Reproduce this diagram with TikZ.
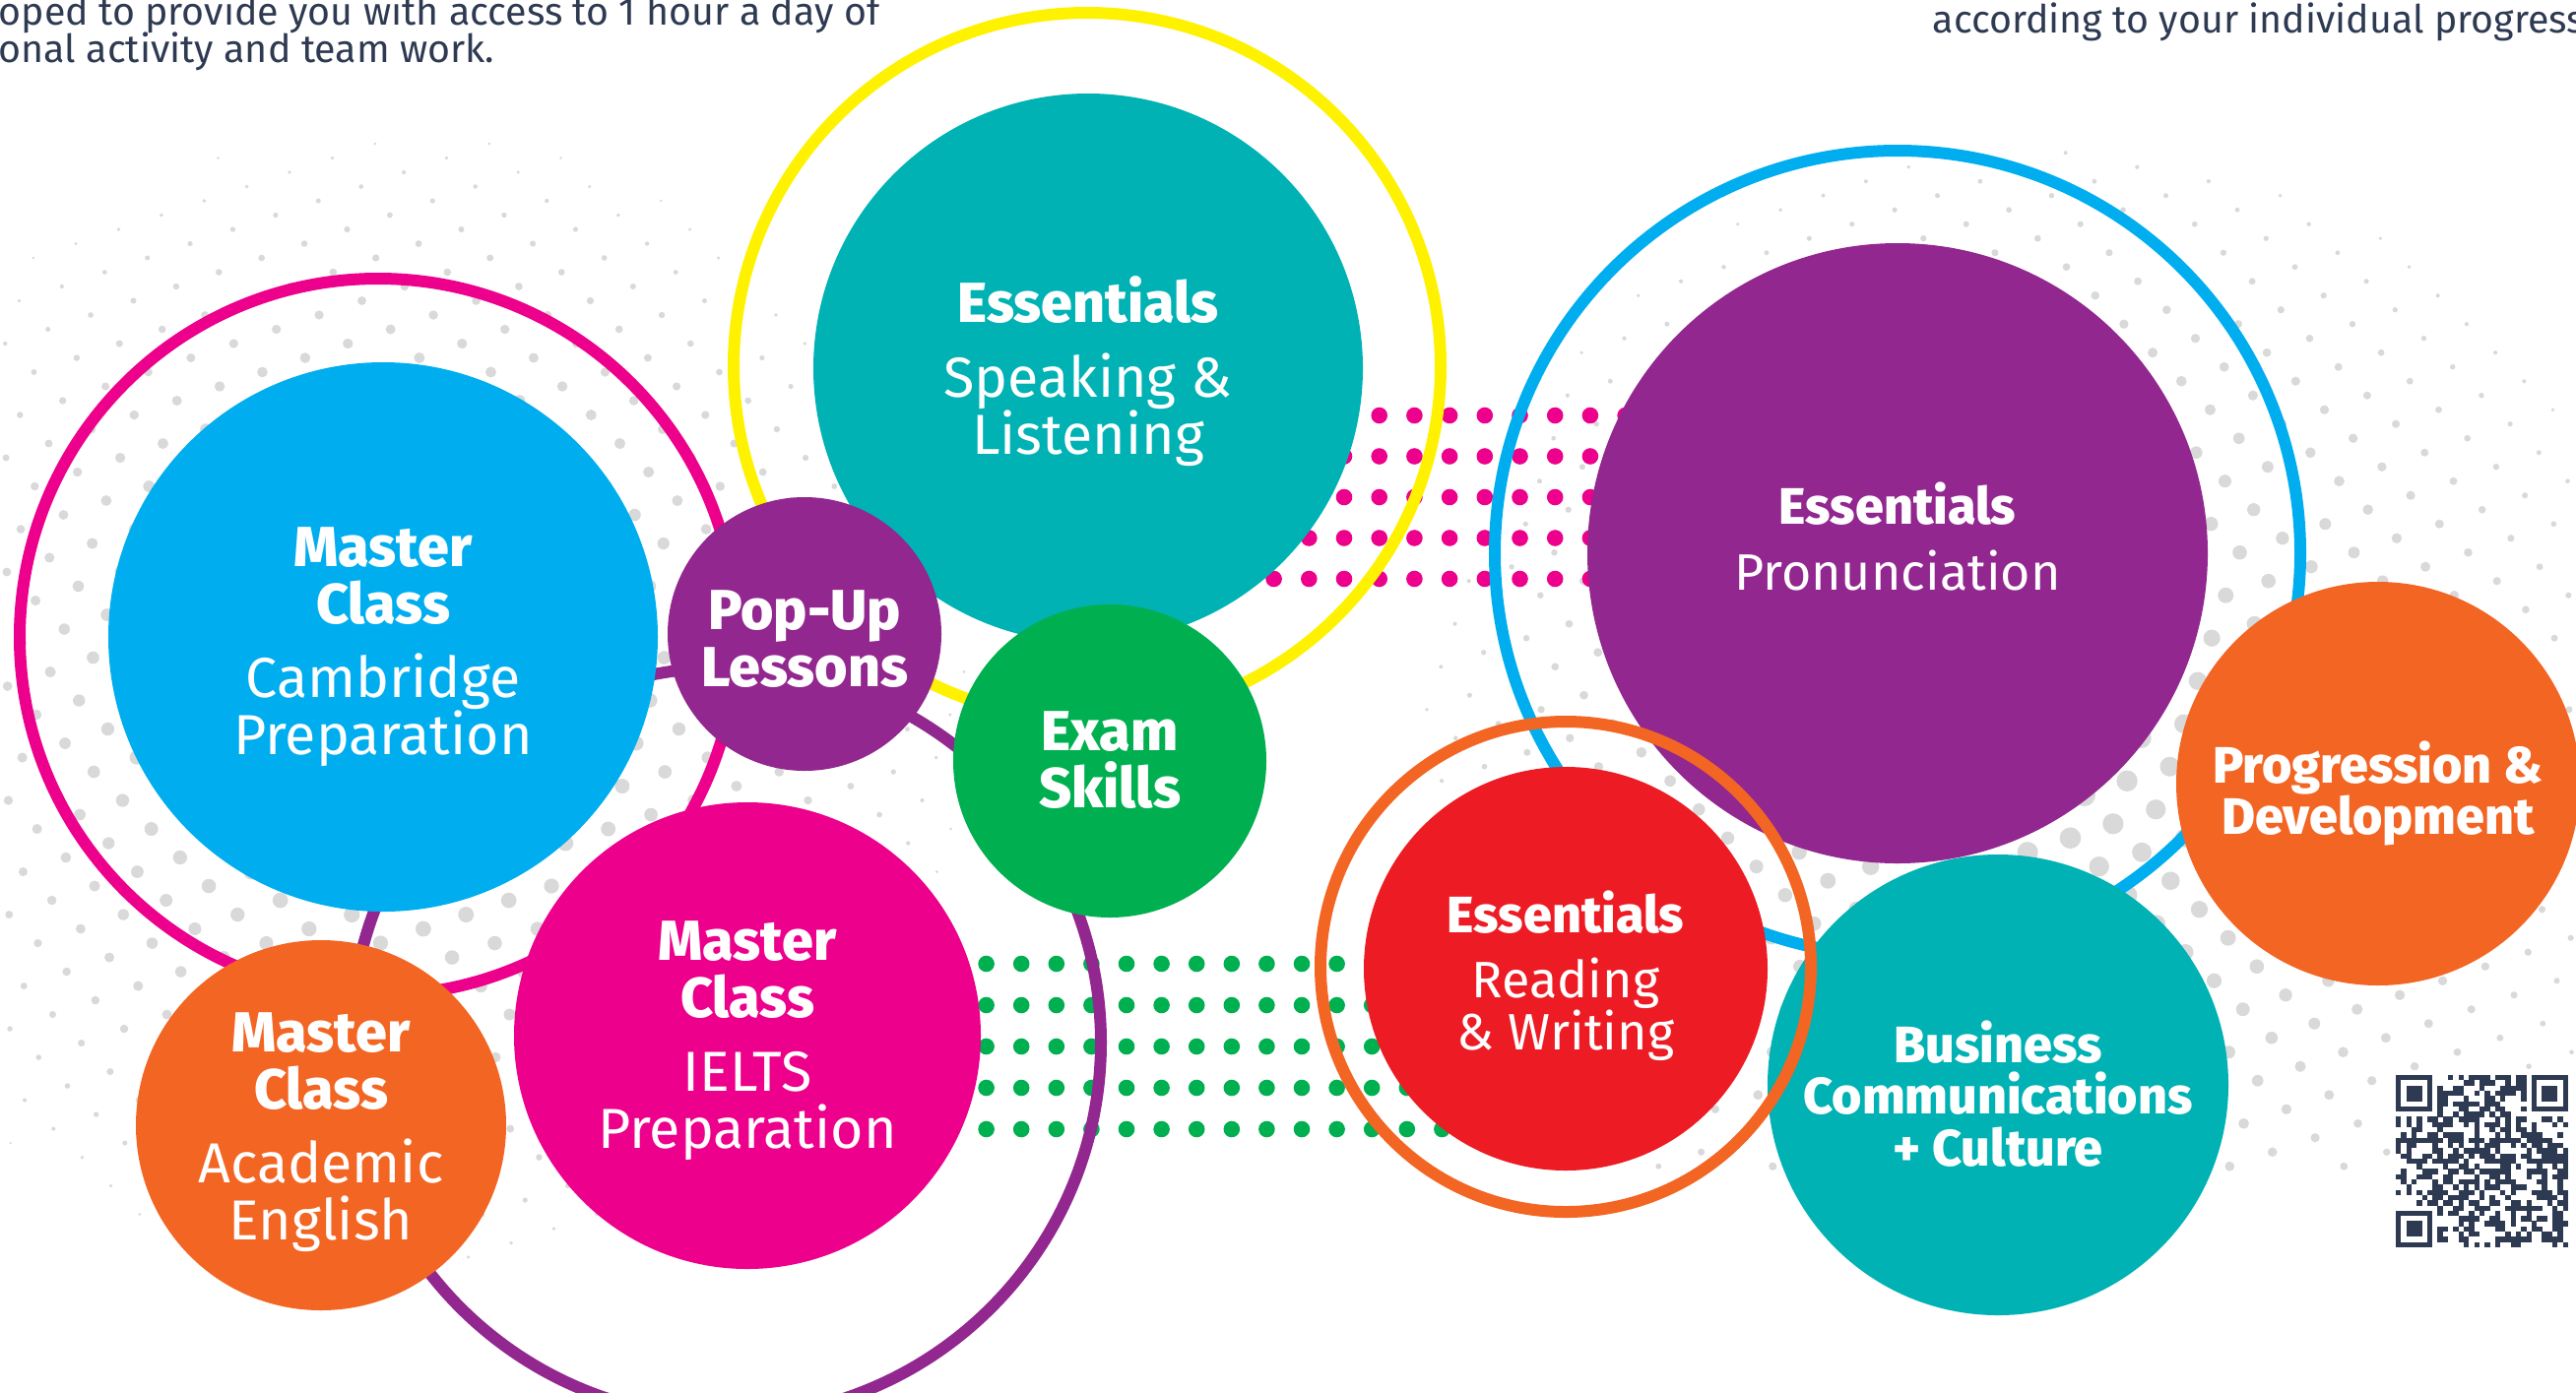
\documentclass[tikz,border=0pt]{standalone}
\usepackage{fontspec}
\setmainfont{Fira Sans}
\IfFontExistsTF{Fira Sans Book}{\newfontfamily\lightface{Fira Sans Book}}{\newcommand\lightface{\mdseries}}
\IfFontExistsTF{Fira Sans ExtraBold}{\newfontfamily\heavyface{Fira Sans ExtraBold}}{\newcommand\heavyface{\bfseries}}
\definecolor{cblue}{HTML}{00AEEF}
\definecolor{cpink}{HTML}{EC008C}
\definecolor{cyellow}{HTML}{FFF200}
\definecolor{cteal}{HTML}{00B2B4}
\definecolor{cpurple}{HTML}{92278F}
\definecolor{cgreen}{HTML}{00B050}
\definecolor{corange}{HTML}{F36523}
\definecolor{cred}{HTML}{ED1C24}
\definecolor{cgray}{HTML}{D9D9D9}
\definecolor{cnavy}{HTML}{2E3A52}
\newcommand\bigtext{\lightface\fontsize{16.3}{16.5}\selectfont}
\newcommand\smalltext{\lightface\fontsize{14.8}{15}\selectfont}
\begin{document}
\begin{tikzpicture}[x=1cm,y=1cm,
  disc/.style={circle,inner sep=0pt,draw=none},
  ring/.style={line width=1.2mm},
  bubbletext/.style={text=white,align=center,font=\bigtext,inner sep=0pt},
  smallbubbletext/.style={text=white,align=center,font=\smalltext,inner sep=0pt},
  intro/.style={text=cnavy,font=\fontsize{11.2}{11.2}\selectfont,inner sep=0pt,anchor=base west}]
\useasboundingbox (0,0) rectangle (26.16,-14.14);
\foreach \j in {-6,...,77}{
	\pgfmathsetmacro\xs{mod(3.233-0.434*\j+46.4,1.16)-2.32}
	\foreach \i in {0,...,11}{
		\pgfmathsetmacro\px{\xs+1.16*\i}
		\pgfmathsetmacro\py{-2.04-0.145*\j}
		\pgfmathsetmacro\dr{0.12*(1-veclen(\px-4.0,\py+7.2)/6.6)}
		\ifdim\dr pt>0.013pt \fill[cgray] (\px,\py) circle[radius=\dr]; \fi
	}
}
\foreach \j in {-2,...,70}{
	\pgfmathsetmacro\xs{mod(21.123-0.434*\j+46.4,1.16)+13.34}
	\foreach \i in {0,...,11}{
		\pgfmathsetmacro\px{\xs+1.16*\i}
		\pgfmathsetmacro\py{-1.697-0.145*\j}
		\pgfmathsetmacro\dr{0.12*(1-veclen(\px-20.8,\py+7.8)/7.5)}
		\ifdim\dr pt>0.018pt \fill[cgray] (\px,\py) circle[radius=\dr]; \fi
	}
}
\foreach \j in {0,...,4}{
	\foreach \k in {0,...,10}{
		\fill[cpink] (12.936+0.357*\k,-4.22-0.415*\j) circle[radius=0.083];
	}
}
\foreach \j in {0,...,4}{
	\foreach \k in {0,...,14}{
		\fill[cgreen] (10.016+0.356*\k,-9.79-0.42*\j) circle[radius=0.083];
	}
}
\draw[ring,cpink] (3.84,-6.47) circle[radius=3.64];
\draw[ring,cyellow] (11.04,-3.72) circle[radius=3.59];
\draw[ring,cpurple] (7.37,-10.59) circle[radius=3.81];
\draw[ring,cblue] (19.27,-5.62) circle[radius=4.09];
\node[disc,fill=cblue,minimum size=5.58cm] (cambridge) at (3.89,-6.47) {};
\node[disc,fill=cteal,minimum size=5.58cm] (speaking) at (11.05,-3.74) {};
\node[disc,fill=cpurple,minimum size=6.30cm] (pronunciation) at (19.27,-5.62) {};
\node[disc,fill=cred,minimum size=4.10cm] (readwrite) at (15.90,-9.84) {};
\node[disc,fill=cpink,minimum size=4.74cm] (ielts) at (7.59,-10.52) {};
\node[disc,fill=cpurple,minimum size=2.78cm] (popup) at (8.17,-6.44) {};
\node[disc,fill=cgreen,minimum size=3.18cm] (exam) at (11.27,-7.73) {};
\node[disc,fill=corange,minimum size=3.76cm] (academic) at (3.26,-11.43) {};
\node[disc,fill=cteal,minimum size=4.68cm] (business) at (20.29,-11.02) {};
\node[disc,fill=corange,minimum size=4.10cm] (progression) at (24.15,-7.96) {};
\draw[ring,corange] (15.90,-9.82) circle[radius=2.49];
\node[bubbletext] (cambridgetext) at (3.89,-6.57) {{\heavyface Master}\\{\heavyface Class}\\[5pt]Cambridge\\Preparation};
\node[bubbletext] (speakingtext) at (11.05,-3.77) {{\heavyface Essentials}\\[5pt]Speaking \&\\Listening};
\node[smallbubbletext] (pronunciationtext) at (19.27,-5.45) {{\heavyface Essentials}\\[4pt]Pronunciation};
\node[smallbubbletext] (readwritetext) at (15.90,-9.91) {{\heavyface Essentials}\\[4pt]Reading\\\& Writing};
\node[bubbletext] (ieltstext) at (7.59,-10.57) {{\heavyface Master}\\{\heavyface Class}\\[5pt]IELTS\\Preparation};
\node[bubbletext,font=\bigtext\heavyface] (popuptext) at (8.17,-6.49) {Pop-Up\\Lessons};
\node[bubbletext,font=\bigtext\heavyface] (examtext) at (11.27,-7.72) {Exam\\Skills};
\node[bubbletext] (academictext) at (3.26,-11.50) {{\heavyface Master}\\{\heavyface Class}\\[5pt]Academic\\English};
\node[smallbubbletext,font=\smalltext\heavyface] (businesstext) at (20.29,-11.11) {Business\\Communications\\+ Culture};
\node[smallbubbletext,font=\smalltext\heavyface] (progressiontext) at (24.15,-8.06) {Progression \&\\Development};
\node[intro] (introa) at (-0.02,-0.25) {oped to provide you with access to 1 hour a day of};
\node[intro] (introb) at (-0.02,-0.63) {onal activity and team work.};
\node[intro] (progress) at (19.62,-0.33) {according to your individual progress};
\fill[white] (24.28,-10.87) rectangle (26.16,-12.73);
\pgfmathsetseed{7}
\foreach \r in {0,...,32}{
	\foreach \c in {0,...,32}{
		\pgfmathtruncatemacro\infinder{or(or(and(\r<8,\c<8),and(\r<8,\c>24)),and(\r>24,\c<8))}
		\pgfmathsetmacro\q{rnd}
		\ifnum\infinder=0 \ifdim\q pt<0.5pt
			\fill[cnavy] (24.33+0.053*\c,-10.92-0.053*\r) rectangle ++(0.054,-0.054);
		\fi\fi
	}
}
\foreach \fx/\fy in {0/0,26/0,0/26}{
	\fill[cnavy] (24.33+0.053*\fx,-10.92-0.053*\fy) rectangle ++(0.371,-0.371);
	\fill[white] (24.383+0.053*\fx,-10.973-0.053*\fy) rectangle ++(0.265,-0.265);
	\fill[cnavy] (24.436+0.053*\fx,-11.026-0.053*\fy) rectangle ++(0.159,-0.159);
}
\end{tikzpicture}
\end{document}
